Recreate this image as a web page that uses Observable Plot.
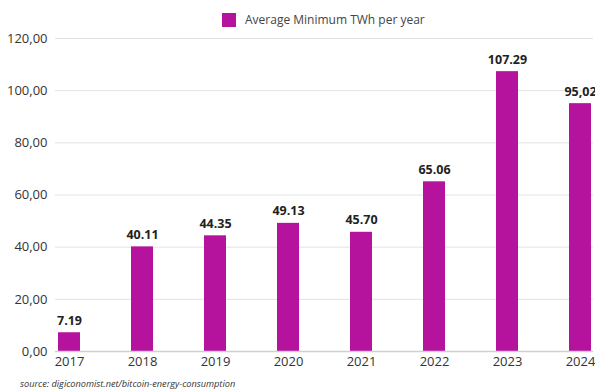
<!DOCTYPE html>
<html><head><meta charset="utf-8">
<script src="https://cdn.jsdelivr.net/npm/d3@7"></script>
<script src="https://cdn.jsdelivr.net/npm/@observablehq/plot@0.6"></script>
<style>
body{margin:0;background:#fff;overflow:hidden;font-family:"Open Sans",sans-serif;}
#wrap{position:relative;width:595px;height:392px;}
#legend{position:absolute;left:222px;top:11px;font-size:12px;color:#444;display:flex;align-items:center;white-space:nowrap;}
#legend span.sw{display:inline-block;width:14px;height:14px;background:#b5139e;margin-right:9px;}
#caption{position:absolute;left:20px;top:378px;font-size:9.2px;line-height:12px;font-style:italic;color:#333;white-space:nowrap;}
#chart{position:absolute;left:0;top:0;}
</style></head>
<body><div id="wrap"><div id="chart"></div>
<div id="legend"><span class="sw"></span>Average Minimum TWh per year</div>
<div id="caption">source: digiconomist.net/bitcoin-energy-consumption</div></div>
<script>
const years = ["2017","2018","2019","2020","2021","2022","2023","2024"];
const values = [7.19, 40.11, 44.35, 49.13, 45.70, 65.06, 107.29, 95.02];
const valueLabels = ["7.19","40.11","44.35","49.13","45.70","65.06","107.29","95,02"];
const yTicks = [0,20,40,60,80,100,120];
const data = years.map((y,i)=>({year:y, value:values[i], label:valueLabels[i]}));
const chart = Plot.plot({
  width:595, height:392,
  marginLeft:55, marginRight:2, marginTop:38, marginBottom:41,
  style:{fontFamily:"Open Sans, sans-serif", background:"#fff"},
  x:{domain:years, paddingInner:0.7, paddingOuter:0, label:null},
  y:{domain:[0,120], label:null},
  marks:[
    Plot.gridY(yTicks, {stroke:"#e3e3e3", strokeOpacity:1, strokeWidth:1}),
    Plot.axisY(yTicks, {tickSize:0, tickPadding:8, fontSize:13, fill:"#333", label:null,
      tickFormat:d=>d.toFixed(2).replace(".",",")}),
    Plot.axisX({tickSize:0, tickPadding:5, fontSize:13, fill:"#333", label:null}),
    Plot.barY(data, {x:"year", y:"value", fill:"#b5139e"}),
    Plot.ruleY([0], {stroke:"#cfcfcf", strokeWidth:1.5}),
    Plot.text(data, {x:"year", y:"value", text:"label", dy:-12, fontSize:12.5, fontWeight:"bold", fill:"#222"})
  ]
});
document.getElementById("chart").appendChild(chart);
</script></body></html>
